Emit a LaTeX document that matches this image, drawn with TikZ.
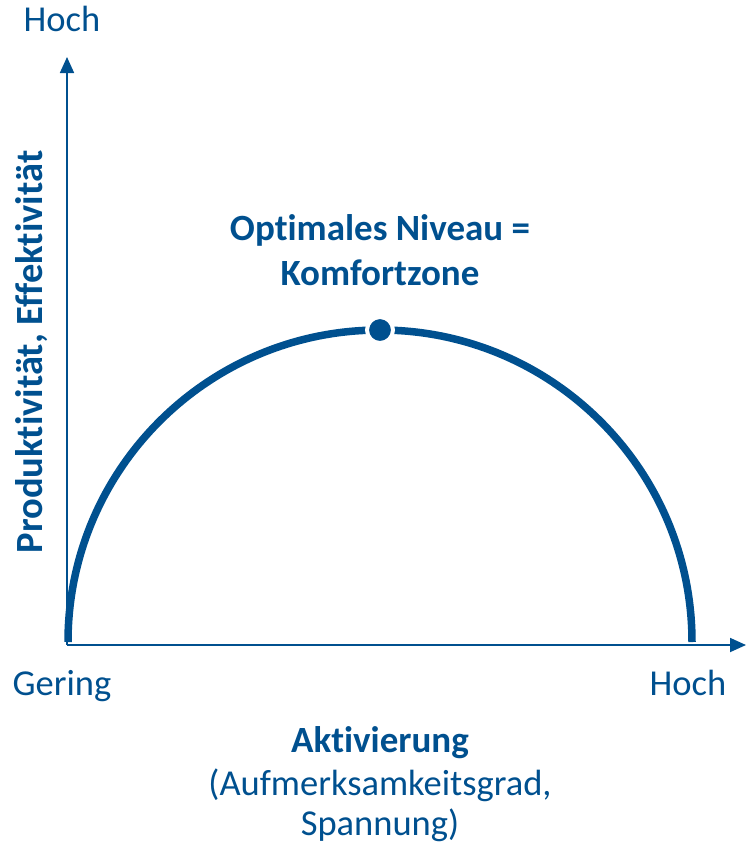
\documentclass[tikz,border=0pt]{standalone}
\usepackage{fontspec}
\setmainfont[Ligatures=NoCommon]{Carlito}
\usepackage{tikz}
\usetikzlibrary{arrows.meta,positioning}
\definecolor{kblue}{HTML}{00508F}

\begin{document}
\begin{tikzpicture}[x=1pt,y=-1pt,
    axis/.style={kblue,line width=1.8pt,-{Triangle[length=16pt,width=14pt]}},
    curve/.style={kblue,line width=7.5pt},
    lbl/.style={text=kblue,font=\fontsize{36.5}{42}\selectfont,inner sep=0pt},
    blbl/.style={lbl,font=\fontsize{37}{45}\selectfont\bfseries,align=center}]
    \useasboundingbox (0,0) rectangle (746,847);
    \coordinate (origin) at (67,645);
    \coordinate (ytip)   at (67,57);
    \coordinate (xtip)   at (746,645);
    % axes
    \draw[axis] (origin) -- (ytip);
    \draw[axis] (origin) -- (xtip);
    % curve
    \draw[curve] (68,642) arc[start angle=180,end angle=360,radius=312];
    \node[circle,fill=kblue,draw=white,line width=4pt,minimum size=26pt,inner sep=0pt] (peak) at (380,330) {};
    % labels
    \node[lbl,anchor=base] (yhigh) at (62,31) {Hoch};
    \node[lbl,anchor=base] (xlow)  at (62,695) {Gering};
    \node[lbl,anchor=base] (xhigh) at (688,695) {Hoch};
    \node[blbl,anchor=base] (opt) at (380,285) {Optimales Niveau =\\Komfortzone};
    \node[blbl,anchor=base,rotate=90,font=\fontsize{38.5}{45}\selectfont\bfseries] (ylabel) at (42,352) {Produktivität, Effektivität};
    \node[blbl,anchor=base] (xlabel) at (380,752) {Aktivierung};
    \node[lbl,align=center,anchor=base,font=\fontsize{36.5}{40}\selectfont] (xsub) at (380,835) {(Aufmerksamkeitsgrad,\\Spannung)};
\end{tikzpicture}
\end{document}
